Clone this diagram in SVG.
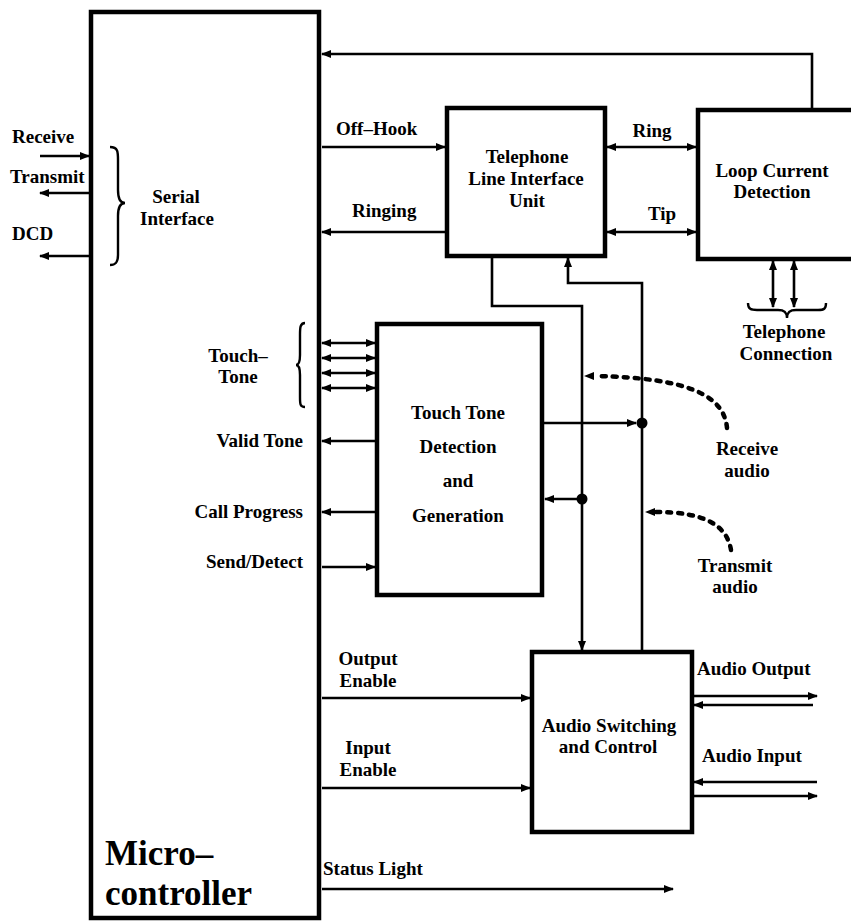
<svg xmlns="http://www.w3.org/2000/svg" width="851" height="922" viewBox="0 0 851 922">
<defs>
<marker id="arr" markerUnits="userSpaceOnUse" markerWidth="10" markerHeight="8" refX="9" refY="4" orient="auto-start-reverse" viewBox="0 0 10 8">
<path d="M0,0 L10,4 L0,8 z" fill="#000"/>
</marker>
</defs>
<style>
text{font-family:"Liberation Serif","Times New Roman",serif;font-weight:bold;font-size:19px;fill:#000}
.c{text-anchor:middle}
.r{text-anchor:end}
.big{font-size:35px}
.box{fill:none;stroke:#000;stroke-width:4.5}
.ln{fill:none;stroke:#000;stroke-width:2.6}
.dot{fill:none;stroke:#000;stroke-width:4.5;stroke-dasharray:4 7;stroke-linecap:round}
.brace{fill:none;stroke:#000;stroke-width:2.4}
</style>
<rect width="851" height="922" fill="#fff"/>

<g id="microcontroller">
<rect x="91" y="12" width="228" height="906" class="box" stroke-width="5"/>
<text x="105" y="865" class="big">Micro–</text>
<text x="105" y="905" class="big">controller</text>
<path class="brace" d="M110,147 C118,147 118,152 118,160 L118,190 C118,198 120,203 125,203 C120,203 118,208 118,216 L118,255 C118,262 116,265 110,265"/>
<text x="176" y="203" class="c">Serial</text>
<text x="177" y="225" class="c">Interface</text>
</g>

<g id="tliu">
<rect x="447" y="108" width="158" height="148" class="box"/>
<text x="527" y="163" class="c">Telephone</text>
<text x="526" y="185" class="c">Line Interface</text>
<text x="527" y="207" class="c">Unit</text>
</g>

<g id="loop">
<rect x="698" y="110" width="160" height="149" class="box"/>
<text x="772" y="177" class="c">Loop  Current</text>
<text x="772" y="198" class="c">Detection</text>
</g>

<g id="touchtone">
<rect x="377" y="324" width="165" height="271" class="box"/>
<text x="458" y="419" class="c">Touch Tone</text>
<text x="458" y="453" class="c">Detection</text>
<text x="458" y="487" class="c">and</text>
<text x="458" y="522" class="c">Generation</text>
</g>

<g id="audio">
<rect x="532" y="652" width="160" height="180" class="box"/>
<text x="609" y="732" class="c">Audio Switching</text>
<text x="608" y="753" class="c">and Control</text>
</g>

<g id="connectors">
<!-- serial -->
<line x1="40" y1="156" x2="89" y2="156" class="ln" marker-end="url(#arr)"/>
<line x1="89" y1="193" x2="40" y2="193" class="ln" marker-end="url(#arr)"/>
<line x1="89" y1="256" x2="40" y2="256" class="ln" marker-end="url(#arr)"/>
<!-- top feedback -->
<polyline points="812,110 812,54 322,54" class="ln" marker-end="url(#arr)"/>
<line x1="322" y1="147" x2="445" y2="147" class="ln" marker-end="url(#arr)"/>
<line x1="445" y1="232" x2="322" y2="232" class="ln" marker-end="url(#arr)"/>
<line x1="607" y1="147" x2="696" y2="147" class="ln" marker-start="url(#arr)" marker-end="url(#arr)"/>
<line x1="607" y1="232" x2="696" y2="232" class="ln" marker-start="url(#arr)" marker-end="url(#arr)"/>
<!-- telephone connection -->
<line x1="773" y1="261" x2="773" y2="307" class="ln" marker-start="url(#arr)" marker-end="url(#arr)"/>
<line x1="794" y1="261" x2="794" y2="307" class="ln" marker-start="url(#arr)" marker-end="url(#arr)"/>
<path class="brace" d="M748,303 C748,309 751,310 757,310 L778,310 C784,310 787,312 787,318 C787,312 790,310 796,310 L818,310 C824,310 826,309 826,303"/>
<!-- TLIU to audio -->
<polyline points="492,258 492,306 582,306 582,650" class="ln" marker-end="url(#arr)"/>
<polyline points="642,652 642,283 568,283 568,258" class="ln" marker-end="url(#arr)"/>
<!-- touch tone bus -->
<line x1="322" y1="343" x2="375" y2="343" class="ln" marker-start="url(#arr)" marker-end="url(#arr)"/>
<line x1="322" y1="358" x2="375" y2="358" class="ln" marker-start="url(#arr)" marker-end="url(#arr)"/>
<line x1="322" y1="373" x2="375" y2="373" class="ln" marker-start="url(#arr)" marker-end="url(#arr)"/>
<line x1="322" y1="388" x2="375" y2="388" class="ln" marker-start="url(#arr)" marker-end="url(#arr)"/>
<path class="brace" d="M305,323 C300,323 300,328 300,335 L300,355 C300,361 299,365 296,365 C299,365 300,369 300,375 L300,397 C300,404 300,407 305,407"/>
<line x1="375" y1="441" x2="322" y2="441" class="ln" marker-end="url(#arr)"/>
<line x1="375" y1="512" x2="322" y2="512" class="ln" marker-end="url(#arr)"/>
<line x1="322" y1="567" x2="375" y2="567" class="ln" marker-end="url(#arr)"/>
<line x1="544" y1="423" x2="636" y2="423" class="ln" marker-end="url(#arr)"/>
<line x1="582" y1="499" x2="545" y2="499" class="ln" marker-end="url(#arr)"/>
<circle cx="642" cy="423" r="5.5" fill="#000"/>
<circle cx="582" cy="499" r="5.5" fill="#000"/>
<!-- dotted -->
<path class="dot" d="M727,428 C724,396 690,378 596,376"/>
<path d="M584,376 L594,372 L594,380 z" fill="#000"/>
<path class="dot" d="M731,550 C727,526 706,512 656,512"/>
<path d="M645,512 L655,508 L655,516 z" fill="#000"/>
<!-- enables -->
<line x1="322" y1="698" x2="530" y2="698" class="ln" marker-end="url(#arr)"/>
<line x1="322" y1="788" x2="530" y2="788" class="ln" marker-end="url(#arr)"/>
<line x1="322" y1="889" x2="673" y2="889" class="ln" marker-end="url(#arr)"/>
<!-- audio out/in -->
<line x1="694" y1="696" x2="817" y2="696" class="ln" marker-end="url(#arr)"/>
<line x1="813" y1="705" x2="694" y2="705" class="ln" marker-end="url(#arr)"/>
<line x1="817" y1="782" x2="694" y2="782" class="ln" marker-end="url(#arr)"/>
<line x1="694" y1="796" x2="817" y2="796" class="ln" marker-end="url(#arr)"/>
</g>

<g id="labels">
<text x="12" y="143">Receive</text>
<text x="10" y="183">Transmit</text>
<text x="12" y="240">DCD</text>
<text x="336" y="135">Off–Hook</text>
<text x="352" y="217">Ringing</text>
<text x="652" y="137" class="c">Ring</text>
<text x="662" y="220" class="c">Tip</text>
<text x="784" y="338" class="c">Telephone</text>
<text x="786" y="360" class="c">Connection</text>
<text x="238" y="362" class="c">Touch–</text>
<text x="238" y="383" class="c">Tone</text>
<text x="303" y="447" class="r">Valid Tone</text>
<text x="303" y="518" class="r">Call Progress</text>
<text x="303" y="568" class="r">Send/Detect</text>
<text x="747" y="455" class="c">Receive</text>
<text x="747" y="477" class="c">audio</text>
<text x="735" y="572" class="c">Transmit</text>
<text x="735" y="593" class="c">audio</text>
<text x="368" y="665" class="c">Output</text>
<text x="368" y="687" class="c">Enable</text>
<text x="368" y="754" class="c">Input</text>
<text x="368" y="776" class="c">Enable</text>
<text x="697" y="675">Audio Output</text>
<text x="702" y="762">Audio Input</text>
<text x="323" y="875">Status Light</text>
</g>
</svg>
